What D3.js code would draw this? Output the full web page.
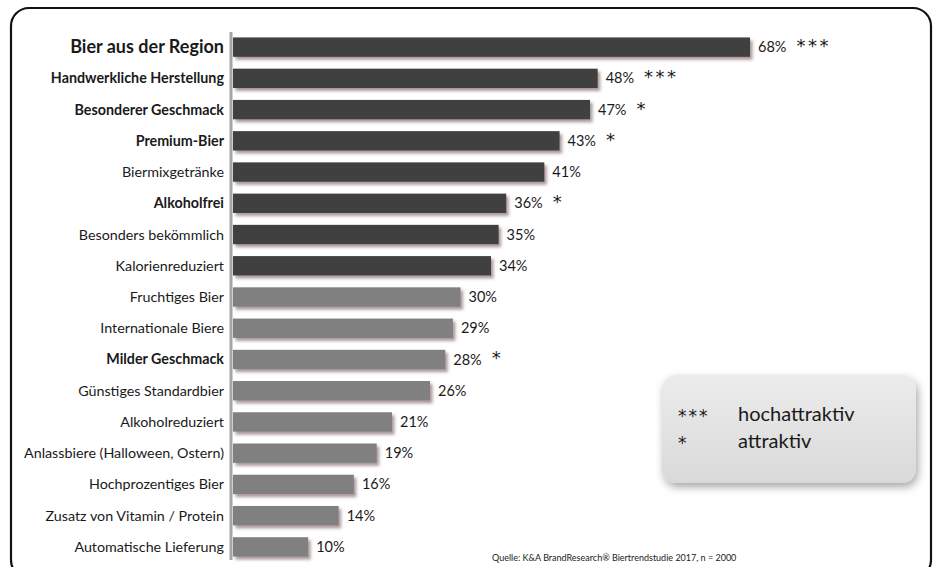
<!DOCTYPE html>
<html><head><meta charset="utf-8">
<script src="https://cdn.jsdelivr.net/npm/d3@7"></script>
<style>body{margin:0;background:#fff}svg{display:block;font-family:Lato,"Open Sans",sans-serif}</style>
</head><body><svg id="c" width="938" height="567"></svg>
<script>
const categories = ["Bier aus der Region","Handwerkliche Herstellung","Besonderer Geschmack","Premium-Bier","Biermixgetränke","Alkoholfrei","Besonders bekömmlich","Kalorienreduziert","Fruchtiges Bier","Internationale Biere","Milder Geschmack","Günstiges Standardbier","Alkoholreduziert","Anlassbiere (Halloween, Ostern)","Hochprozentiges Bier","Zusatz von Vitamin / Protein","Automatische Lieferung"];
const values = [68,48,47,43,41,36,35,34,30,29,28,26,21,19,16,14,10];
const stars = ["***","***","*","*","","*","","","","","*","","","","","",""];
const boldLabels = [true,true,true,true,false,true,false,false,false,false,true,false,false,false,false,false,false];
const darkGroup = [1,1,1,1,1,1,1,1,0,0,0,0,0,0,0,0,0];
const legendSymbols = ["***","*"];
const legendTexts = ["hochattraktiv","attraktiv"];
const source = "Quelle: K&A BrandResearch\u00ae Biertrendstudie 2017, n = 2000";

const svg = d3.select("#c");
const defs = svg.append("defs");
const f = defs.append("filter").attr("id","sh").attr("x","-10%").attr("y","-50%").attr("width","130%").attr("height","250%");
f.append("feDropShadow").attr("dx",2.5).attr("dy",3).attr("stdDeviation",1.6).attr("flood-color","#6b4a4a").attr("flood-opacity",0.55);
const f2 = defs.append("filter").attr("id","sh2").attr("x","-20%").attr("y","-30%").attr("width","140%").attr("height","170%");
f2.append("feDropShadow").attr("dx",2).attr("dy",4).attr("stdDeviation",4).attr("flood-color","#000").attr("flood-opacity",0.35);
const lg = defs.append("linearGradient").attr("id","lg").attr("x1",0).attr("y1",0).attr("x2",0).attr("y2",1);
lg.append("stop").attr("offset","0%").attr("stop-color","#ececec");
lg.append("stop").attr("offset","100%").attr("stop-color","#d9d9d9");

// frame
svg.append("rect").attr("x",11).attr("y",8).attr("width",920).attr("height",570).attr("rx",18)
  .attr("fill","#fff").attr("stroke","#111").attr("stroke-width",2.2);

const x = d3.scaleLinear().domain([0,68]).range([232,750]);
const y = d3.scaleBand().domain(categories).range([31.5,562.5]).paddingInner(0.38).paddingOuter(0.19);

// axis line
svg.append("line").attr("x1",231).attr("x2",231).attr("y1",32).attr("y2",560).attr("stroke","#a6a6a6").attr("stroke-width",3);

const g = svg.append("g");
g.selectAll("rect.bar").data(categories).join("rect").attr("class","bar")
  .attr("x",x(0)+1).attr("y",d=>y(d)).attr("height",y.bandwidth())
  .attr("width",(d,i)=>x(values[i])-x(0)-1)
  .attr("fill",(d,i)=>darkGroup[i]?"#404040":"#808080")
  .attr("filter","url(#sh)");

g.selectAll("text.lab").data(categories).join("text").attr("class","lab")
  .attr("x",224).attr("y",d=>y(d)+y.bandwidth()/2).attr("dy","0.35em")
  .attr("text-anchor","end").attr("fill","#1a1a1a")
  .attr("font-size",(d,i)=>i===0?18:14.3)
  .attr("font-weight",(d,i)=>boldLabels[i]?"bold":"normal")
  .text(d=>d);

const vals = g.selectAll("text.val").data(categories).join("text").attr("class","val")
  .attr("x",(d,i)=>x(values[i])+8).attr("y",d=>y(d)+y.bandwidth()/2).attr("dy","0.35em")
  .attr("font-size",14.5).attr("fill","#1a1a1a")
  .text((d,i)=>values[i]+"%");
const vw = vals.nodes().map(n=>n.getComputedTextLength());

g.selectAll("text.star").data(categories).join("text").attr("class","star")
  .attr("x",(d,i)=>x(values[i])+8+vw[i]+10).attr("y",d=>y(d)+y.bandwidth()/2+5)
  .attr("font-family","'DejaVu Sans'")
  .attr("font-size",18).attr("fill","#1a1a1a").attr("letter-spacing",2.5)
  .text((d,i)=>stars[i]);

// legend
svg.append("rect").attr("x",662).attr("y",375).attr("width",254).attr("height",108).attr("rx",14)
  .attr("fill","url(#lg)").attr("filter","url(#sh2)");
const lgG = svg.append("g");
legendSymbols.forEach((s,i)=>{
  lgG.append("text").attr("x",678).attr("y",422+i*27).attr("font-family","'DejaVu Sans'").attr("font-size",17).attr("letter-spacing",2).attr("fill","#1a1a1a").text(s);
  lgG.append("text").attr("x",738).attr("y",421+i*27).attr("font-size",20).attr("fill","#1a1a1a").text(legendTexts[i]);
});

svg.append("text").attr("x",492).attr("y",561).attr("font-size",9).attr("fill","#1a1a1a").text(source);
</script></body></html>
